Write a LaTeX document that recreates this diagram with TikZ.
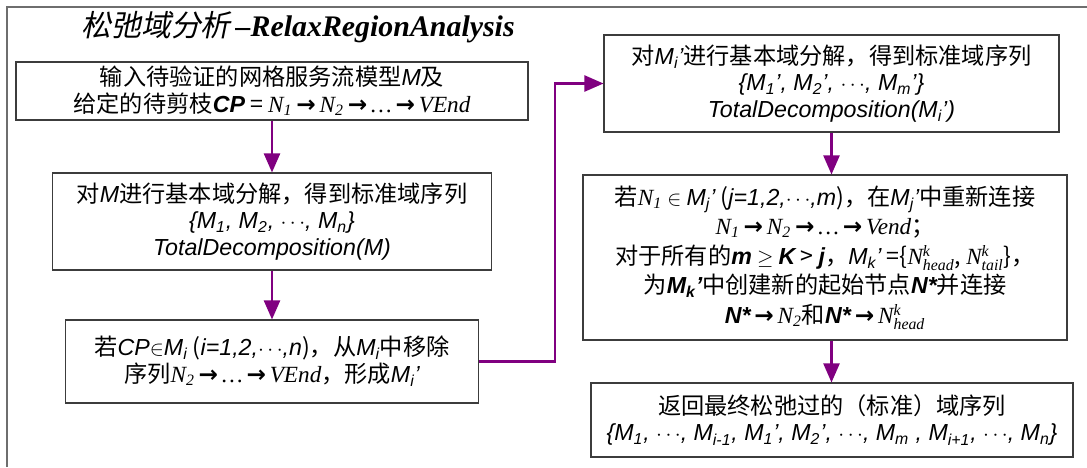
\documentclass[tikz,border=0pt]{standalone}
\usepackage{fontspec}
\setmainfont{Noto Sans CJK SC}
\newfontfamily\arialfont{Liberation Sans}
\newfontfamily\timesfont{Liberation Serif}
\newfontfamily\arrowfont{DejaVu Sans}
\newfontfamily\cjkslant[FakeSlant=0.2]{Noto Sans CJK SC}
\usepackage{tikz}
\usetikzlibrary{arrows.meta, positioning}
\definecolor{flowpurple}{RGB}{128,0,128}
\definecolor{framegray}{RGB}{110,110,110}
\definecolor{boxgray}{RGB}{60,60,60}
\newcommand\ai[1]{{\arialfont\itshape #1}}
\newcommand\aib[1]{{\arialfont\bfseries\itshape #1}}
\newcommand\ti[1]{{\timesfont\itshape #1}}
\newcommand\sub[1]{$_{\hbox{\small #1}}$}
\newcommand\subsup[2]{$_{\hbox{\small #1}}^{\hbox{\small #2}}$}
\newcommand\ra{\,{\arrowfont\bfseries →}\,}
\tikzset{>={Triangle[length=0.38cm,width=0.32cm]},
  stepbox/.style={draw=boxgray, line width=0.6pt, align=center, inner sep=0pt,
    font=\fontsize{13.2}{15.3}\selectfont},
  flow/.style={->, draw=flowpurple, line width=1.3pt},
  frame/.style={draw=framegray, line width=1.2pt}}

\begin{document}
\begin{tikzpicture}
    \useasboundingbox (0,0) rectangle (21.74,-9.34);
    \draw[frame] (0.14,-9.34) |- (21.74,-0.14);

    \node[font=\fontsize{17}{20}\selectfont] (title) at (5.96,-0.54)
        {{\cjkslant 松弛域分析}\,{\timesfont\bfseries\itshape –RelaxRegionAnalysis}};

    \node[stepbox, minimum width=10.24cm, minimum height=1.16cm] (b1) at (5.44,-1.82)
        {输入待验证的网格服务流模型\ai{M}及\\
         给定的待剪枝\aib{CP} = \ti{N}\sub{\ti{1}}\ra\ti{N}\sub{\ti{2}}\ra\ti{…}\ra\ti{VEnd}};
    \node[stepbox, minimum width=8.78cm, minimum height=1.94cm] (b2) at (5.44,-4.43)
        {对\ai{M}进行基本域分解，得到标准域序列\\
         \ai{\{M\sub{1}, M\sub{2}, $\cdots$, M\sub{n}\}}\\
         \ai{TotalDecomposition(M)}};
    \node[stepbox, minimum width=8.26cm, minimum height=1.66cm] (b3) at (5.44,-7.23)
        {若\ai{CP}$\in$\ai{M\sub{i}} (\ai{i=1,2,$\cdots$,n})，从\ai{M\sub{i}}中移除\\
         序列\ti{N}\sub{\ti{2}}\ra\ti{…}\ra\ti{VEnd}，形成\ai{M\sub{i}’}};

    \node[stepbox, minimum width=9.10cm, minimum height=1.94cm] (b4) at (16.63,-1.67)
        {对\ai{M\sub{i}’}进行基本域分解，得到标准域序列\\
         \ai{\{M\sub{1}’, M\sub{2}’, $\cdots$, M\sub{m}’\}}\\
         \ai{TotalDecomposition(M\sub{i}’)}};
    \node[stepbox, minimum width=9.68cm, minimum height=3.30cm,
          font=\fontsize{13.2}{16.8}\selectfont] (b5) at (16.50,-5.15)
        {若\ti{N}\sub{\ti{1}} $\in$ \ai{M\sub{j}’} (\ai{j=1,2,$\cdots$,m})，在\ai{M\sub{j}’}中重新连接\\
         \ti{N}\sub{\ti{1}}\ra\ti{N}\sub{\ti{2}}\ra\ti{…}\ra\ti{Vend}；\\
         对于所有的\aib{m} $\geq$ \aib{K} > \aib{j}，\ai{M\sub{k}’} =\{\ti{N}\subsup{\ti{head}}{\ti{k}}, \ti{N}\subsup{\ti{tail}}{\ti{k}}\}，\\
         为\aib{M\sub{k}’}中创建新的起始节点\aib{N*}并连接\\
         \aib{N*}\ra\ti{N}\sub{\ti{2}}和\aib{N*}\ra\ti{N}\subsup{\ti{head}}{\ti{k}}};
    \node[stepbox, minimum width=9.64cm, minimum height=1.48cm] (b6) at (16.64,-8.40)
        {返回最终松弛过的（标准）域序列\\
         \ai{\{M\sub{1}, $\cdots$, M\sub{i-1}, M\sub{1}’, M\sub{2}’, $\cdots$, M\sub{m} , M\sub{i+1}, $\cdots$, M\sub{n}\}}};

    \draw[flow] (b1) -- (b2);
    \draw[flow] (b2) -- (b3);
    \draw[flow] (b3.east) -- ++(1.52,0) |- (b4.west);
    \draw[flow] (b4.south) -- (b4.south |- b5.north);
    \draw[flow] (b4.south |- b5.south) -- (b4.south |- b6.north);
\end{tikzpicture}
\end{document}
